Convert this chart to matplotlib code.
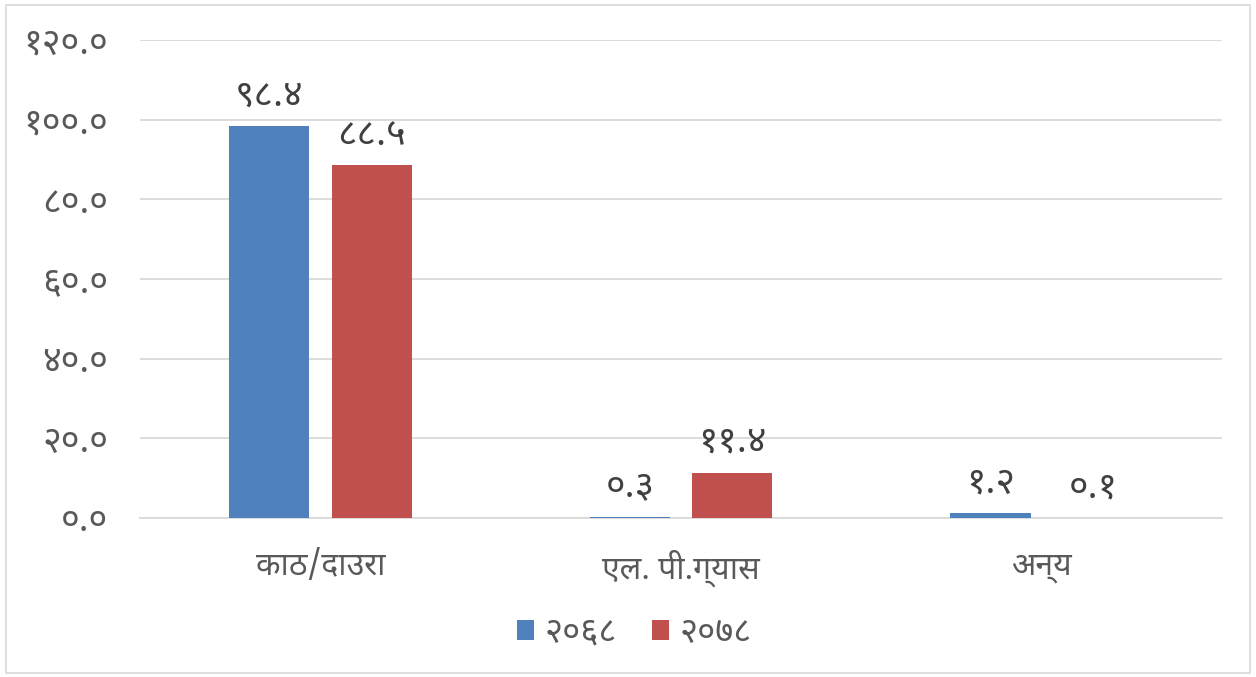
import matplotlib
matplotlib.use('Agg')
import matplotlib.pyplot as plt
import numpy as np
from matplotlib.patches import Rectangle

plt.rcParams['font.family'] = ['Noto Sans Devanagari', 'DejaVu Sans']

categories = ['काठ/दाउरा', 'एल. पी.ग्यास', 'अन्य']
series_names = ['२०६८', '२०७८']
values_2068 = [98.4, 0.3, 1.2]
values_2078 = [88.5, 11.4, 0.1]
yticks = [0, 20, 40, 60, 80, 100, 120]

blue = '#4F81BD'
red = '#C0504D'
text_color = '#595959'
grid_color = '#D9D9D9'

dev = str.maketrans('0123456789', '०१२३४५६७८९')

def to_dev(v):
    return f'{v:.1f}'.translate(dev)

fig = plt.figure(figsize=(12.56, 6.77), dpi=100)
ax = fig.add_axes([0.1115, 0.2349, 0.8615, 0.706])

x = np.arange(len(categories))
width = 0.222
off = 0.142

b1 = ax.bar(x - off, values_2068, width, color=blue, label=series_names[0], zorder=3)
b2 = ax.bar(x + off, values_2078, width, color=red, label=series_names[1], zorder=3)

for bars, vals in [(b1, values_2068), (b2, values_2078)]:
    for rect, v in zip(bars, vals):
        ax.annotate(to_dev(v), (rect.get_x() + rect.get_width() / 2, v),
                    xytext=(0, 22), textcoords='offset points',
                    ha='center', va='center', fontsize=27, color='#404040')

ax.set_xlim(-0.5, 2.5)
ax.set_ylim(0, 120)
ax.set_yticks(yticks)
ax.set_yticklabels([to_dev(t) for t in yticks], fontsize=26, color=text_color)
ax.set_xticks(x)
ax.set_xticklabels(categories, fontsize=23, color=text_color)
ax.tick_params(axis='y', length=0, pad=23)
ax.tick_params(axis='x', length=0, pad=23)

for s in ['top', 'right', 'left']:
    ax.spines[s].set_visible(False)
ax.spines['bottom'].set_color(grid_color)
ax.spines['bottom'].set_linewidth(1.3)
ax.grid(axis='y', color=grid_color, linewidth=1.3, zorder=0)
ax.set_axisbelow(True)

leg = fig.legend(loc='center', bbox_to_anchor=(0.505, 0.065), ncol=2, frameon=False,
                 prop={'size': 25}, handlelength=0.5,
                 handleheight=0.5, handletextpad=0.3, columnspacing=1.0)
for t in leg.get_texts():
    t.set_color(text_color)

fig.patches.append(Rectangle((0.005, 0.006), 0.99, 0.986, transform=fig.transFigure,
                             fill=False, edgecolor='#D9D9D9', linewidth=1.2))

fig.savefig('out.png', dpi=100)
